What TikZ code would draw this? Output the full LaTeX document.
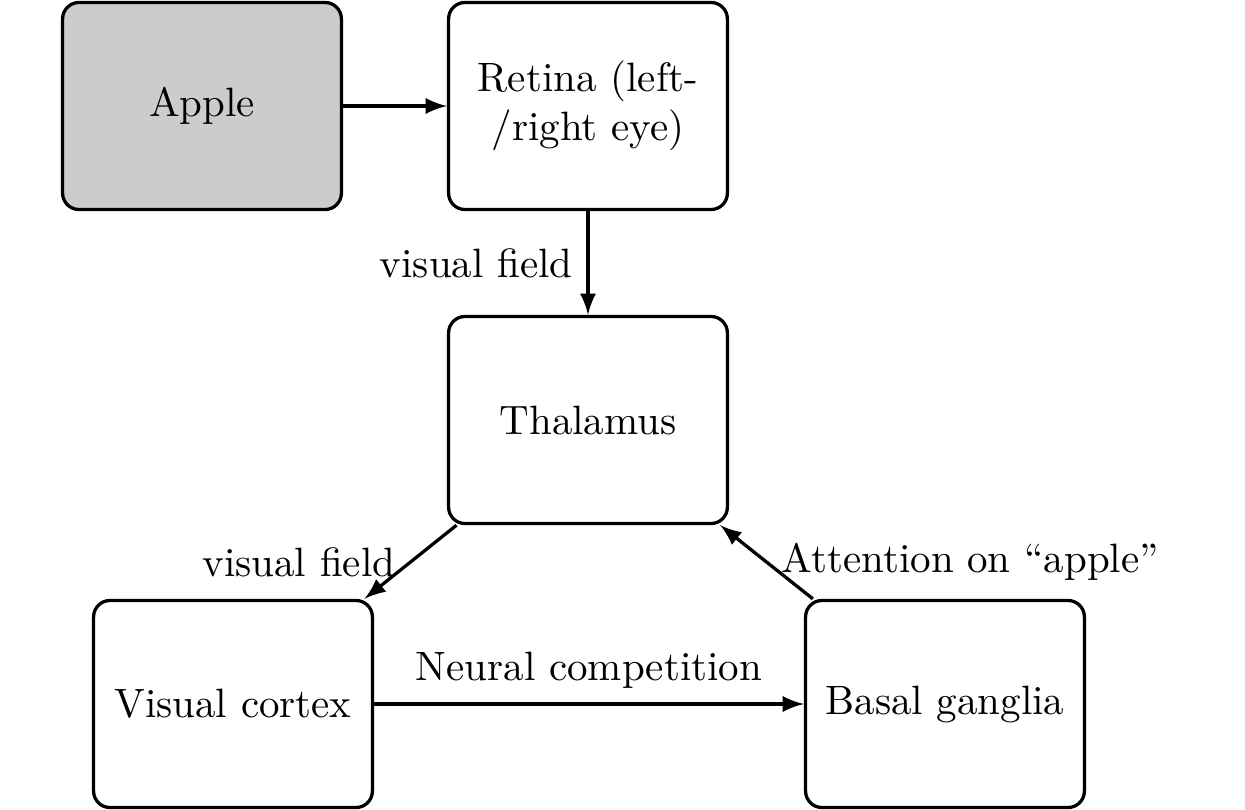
\documentclass[tikz,border=0pt]{standalone}
\usetikzlibrary{arrows}
\begin{document}
\begin{tikzpicture}[x=0.2439pt,y=-0.2439pt,
  box/.style={draw,thick,rounded corners=4pt,minimum width=68pt,minimum height=50.5pt,inner sep=0pt,align=center},
  conn/.style={thick,-latex}]
\useasboundingbox (0,0) rectangle (1245,810);
\node[box,fill=black!20] (apple) at (202,106) {Apple};
\node[box] (retina) at (588,106) {Retina (left-\\/right eye)};
\node[box] (thal) at (588,420) {Thalamus};
\node[box] (vc) at (233,704) {Visual cortex};
\node[box] (bg) at (945,704) {Basal ganglia};
\draw[conn] (apple) -- (retina);
\draw[conn] (retina) -- node[left] {visual field} (thal);
\draw[conn] (thal) -- node[left] {visual field} (vc);
\draw[conn] (vc) -- node[above] {Neural competition} (bg);
\draw[conn] (bg) -- node[right] {Attention on ``apple''} (thal);
\end{tikzpicture}
\end{document}
